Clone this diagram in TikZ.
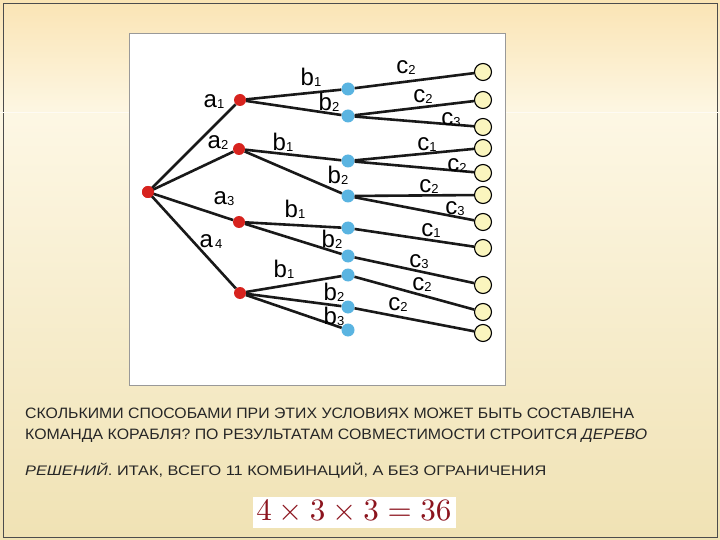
\documentclass[tikz,border=0pt]{standalone}
\usepackage{fontspec}
\setmainfont{Liberation Sans}
\usepackage{graphicx}
\definecolor{bgtop}{RGB}{250,228,180}
\definecolor{bgmid}{RGB}{253,247,228}
\definecolor{bgbot}{RGB}{240,226,180}
\definecolor{red1}{RGB}{215,35,30}
\definecolor{blue1}{RGB}{90,180,225}
\definecolor{yel1}{RGB}{250,245,190}
\definecolor{fred}{RGB}{140,20,30}
\begin{document}
\begin{tikzpicture}[x=1pt,y=-1pt,
  rd/.style={circle,fill=red1,inner sep=0pt,minimum size=12pt},
  bl/.style={circle,fill=blue1,inner sep=0pt,minimum size=13pt},
  yl/.style={circle,fill=yel1,draw=black,line width=1.1pt,inner sep=0pt,minimum size=17pt},
  ed/.style={line width=2.6pt,black!90},
  lb/.style={inner sep=0pt},
  tx/.style={anchor=west,inner sep=0pt,text=black!85}]
\newcommand{\lbl}[2]{\fontsize{24}{24}\selectfont #1\raisebox{-1pt}{\fontsize{13}{13}\selectfont #2}}
\useasboundingbox (0,0) rectangle (720,540);
\shade[top color=bgtop,bottom color=bgmid] (0,0) rectangle (720,115);
\shade[top color=bgmid,bottom color=bgbot] (0,115) rectangle (720,540);
\draw[black!70,line width=0.8pt] (3,3) rectangle (717,537);
\draw[white!85!bgtop,line width=1pt] (0,113) -- (720,113);
\draw[fill=white,draw=black!40] (129,33) rectangle (505,385);
% nodes
\node[rd] (r) at (148,192) {};
\node[rd] (a1) at (240,100) {};
\node[rd] (a2) at (239,149) {};
\node[rd] (a3) at (239,222) {};
\node[rd] (a4) at (240,293) {};
\foreach \n/\y in {1/89,2/116,3/161,4/196,5/228,6/256,7/275,8/307,9/330}
  \node[bl] (b\n) at (348,\y) {};
\foreach \n/\y in {1/72,2/100,3/127,4/148,5/173,6/195,7/222,8/248,9/285,10/312,11/333}
  \node[yl] (c\n) at (483,\y) {};
% edges
\foreach \a in {a1,a2,a3,a4} \draw[ed] (r.center) -- (\a);
\draw[ed] (a1) -- (b1); \draw[ed] (a1) -- (b2);
\draw[ed] (a2) -- (b3); \draw[ed] (a2) -- (b4);
\draw[ed] (a3) -- (b5); \draw[ed] (a3) -- (b6);
\draw[ed] (a4) -- (b7); \draw[ed] (a4) -- (b8); \draw[ed] (a4) -- (b9);
\draw[ed] (b1) -- (c1);
\draw[ed] (b2) -- (c2); \draw[ed] (b2) -- (c3);
\draw[ed] (b3) -- (c4); \draw[ed] (b3) -- (c5);
\draw[ed] (b4) -- (c6); \draw[ed] (b4) -- (c7);
\draw[ed] (b5) -- (c8);
\draw[ed] (b6) -- (c9);
\draw[ed] (b7) -- (c10);
\draw[ed] (b8) -- (c11);
\node[rd] at (r) {};
% labels
\node[lb] (la1) at (214,102) {\lbl{a}{1}};
\node[lb] (la2) at (218,143) {\lbl{a}{2}};
\node[lb] (la3) at (224,199) {\lbl{a}{3}};
\node[lb] (la4) at (211,242) {\lbl{a}{\,4}};
\node[lb] (lb1) at (311,77) {\lbl{b}{1}};
\node[lb] (lb2) at (329,102) {\lbl{b}{2}};
\node[lb] (lb3) at (283,142) {\lbl{b}{1}};
\node[lb] (lb4) at (338,175) {\lbl{b}{2}};
\node[lb] (lb5) at (295,209) {\lbl{b}{1}};
\node[lb] (lb6) at (332,239) {\lbl{b}{2}};
\node[lb] (lb7) at (284,269) {\lbl{b}{1}};
\node[lb] (lb8) at (334,292) {\lbl{b}{2}};
\node[lb] (lb9) at (334,316) {\lbl{b}{3}};
\node[lb] (lc1) at (406,68) {\lbl{c}{2}};
\node[lb] (lc2) at (423,97) {\lbl{c}{2}};
\node[lb] (lc3) at (451,120) {\lbl{c}{3}};
\node[lb] (lc4) at (427,145) {\lbl{c}{1}};
\node[lb] (lc5) at (457,166) {\lbl{c}{2}};
\node[lb] (lc6) at (429,187) {\lbl{c}{2}};
\node[lb] (lc7) at (455,209) {\lbl{c}{3}};
\node[lb] (lc8) at (431,231) {\lbl{c}{1}};
\node[lb] (lc9) at (419,262) {\lbl{c}{3}};
\node[lb] (lc10) at (422,285) {\lbl{c}{2}};
\node[lb] (lc11) at (398,305) {\lbl{c}{2}};
% text
\node[tx] (t1) at (25,413) {\resizebox{609pt}{10.5pt}{СКОЛЬКИМИ СПОСОБАМИ ПРИ ЭТИХ УСЛОВИЯХ МОЖЕТ БЫТЬ СОСТАВЛЕНА}};
\node[tx] (t2) at (25,436) {\resizebox{622pt}{10.5pt}{КОМАНДА КОРАБЛЯ? ПО РЕЗУЛЬТАТАМ СОВМЕСТИМОСТИ СТРОИТСЯ \textit{ДЕРЕВО}}};
\node[tx] (t3) at (25,471) {\resizebox{521pt}{12.5pt}{\textit{РЕШЕНИЙ}. ИТАК, ВСЕГО 11 КОМБИНАЦИЙ, А БЕЗ ОГРАНИЧЕНИЯ}};
\node[fill=white,minimum width=203pt,minimum height=31pt,inner sep=0pt] (f) at (354,512) {\textcolor{fred}{\resizebox{195pt}{!}{$4\times3\times3=36$}}};
\end{tikzpicture}
\end{document}
